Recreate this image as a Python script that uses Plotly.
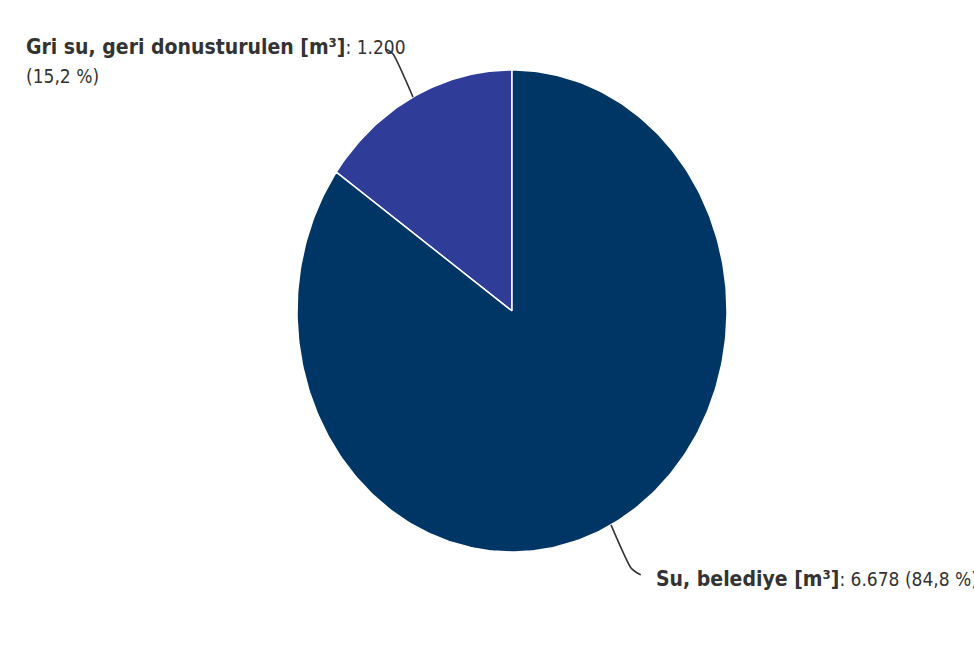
import math
import plotly.graph_objects as go

# ---- data ----
labels = ["Gri su, geri donusturulen [m³]", "Su, belediye [m³]"]
values = [1200, 6678]
colors = ["#2F3C98", "#003665"]

# ---- layout geometry (pixels) ----
W, H = 974, 652
CX, CY = 512, 311          # pie centre
RX, RY = 215, 241          # pie radii (px)

total = sum(values)

def fmt_int(v):
    return f"{v:,}".replace(",", ".")

def fmt_pct(v):
    return f"{v:.1f}".replace(".", ",") + " %"

fig = go.Figure()

# slices: start at 12 o'clock, going counter-clockwise
start = 0.0
mids = []
for lab, val, col in zip(labels, values, colors):
    sweep = val / total * 2 * math.pi
    n = max(8, int(sweep / (2 * math.pi) * 360))
    xs, ys = [0.0], [0.0]
    for i in range(n + 1):
        a = start + sweep * i / n
        xs.append(-math.sin(a))
        ys.append(math.cos(a))
    xs.append(0.0)
    ys.append(0.0)
    fig.add_trace(go.Scatter(x=xs, y=ys, mode="lines", fill="toself",
                             fillcolor=col, line=dict(color="white", width=1.5),
                             hoverinfo="text", text=lab, showlegend=False))
    mids.append(start + sweep / 2)
    start += sweep

# leader lines
px_x = 1.0 / RX
px_y = 1.0 / RY
for m in mids:
    sx, sy = -math.sin(m), math.cos(m)
    p0 = (sx, sy)
    p1 = (sx * 1.2, sy * 1.2)
    side = 1 if sx > 0 else -1
    if sy > 0:
        p2 = (p1[0] + side * 5 * px_x, p1[1] + 4 * px_y)
        p3 = (p1[0] + side * 8 * px_x, p1[1] + 5 * px_y)
    else:
        p2 = (p1[0] + side * 6 * px_x, p1[1] - 5 * px_y)
        p3 = (p1[0] + side * 10 * px_x, p1[1] - 7 * px_y)
    fig.add_trace(go.Scatter(x=[p0[0], p1[0], p2[0], p3[0]], y=[p0[1], p1[1], p2[1], p3[1]],
                             mode="lines", line=dict(color="#333333", width=1.6, shape="spline", smoothing=0.6),
                             hoverinfo="skip", showlegend=False))

FAMILY = "DejaVu Sans Condensed, DejaVu Sans, sans-serif"
font_b = dict(family=FAMILY, size=21, color="#333333")
font_r = dict(family=FAMILY, size=19, color="#333333")

def px(xp):
    return xp / W

def py(yp):
    return 1 - yp / H

def reg(s):
    return f"<span style='font-size:19px'>{s}</span>"

pcts = [v / total * 100 for v in values]
fig.add_annotation(x=px(24), y=py(47), xref="paper", yref="paper", xanchor="left", yanchor="middle",
                   text=f"<b>{labels[0]}</b>" + reg(f": {fmt_int(values[0])}"),
                   showarrow=False, font=font_b, align="left")
fig.add_annotation(x=px(24), y=py(76), xref="paper", yref="paper", xanchor="left", yanchor="middle",
                   text=f"({fmt_pct(pcts[0])})", showarrow=False, font=font_r, align="left")
fig.add_annotation(x=px(654), y=py(579), xref="paper", yref="paper", xanchor="left", yanchor="middle",
                   text=f"<b>{labels[1]}</b>" + reg(f": {fmt_int(values[1])} ({fmt_pct(pcts[1])})"),
                   showarrow=False, font=font_b, align="left")

fig.update_layout(
    width=W, height=H,
    margin=dict(l=0, r=0, t=0, b=0),
    paper_bgcolor="white", plot_bgcolor="white",
    xaxis=dict(range=[(0 - CX) / RX, (W - CX) / RX], visible=False, fixedrange=True, domain=[0, 1]),
    yaxis=dict(range=[(CY - H) / RY, CY / RY], visible=False, fixedrange=True, domain=[0, 1]),
    showlegend=False,
)

fig.write_html("out.html", config={"displayModeBar": False},
               post_script="document.body.style.margin='0';document.body.style.overflow='hidden';")
